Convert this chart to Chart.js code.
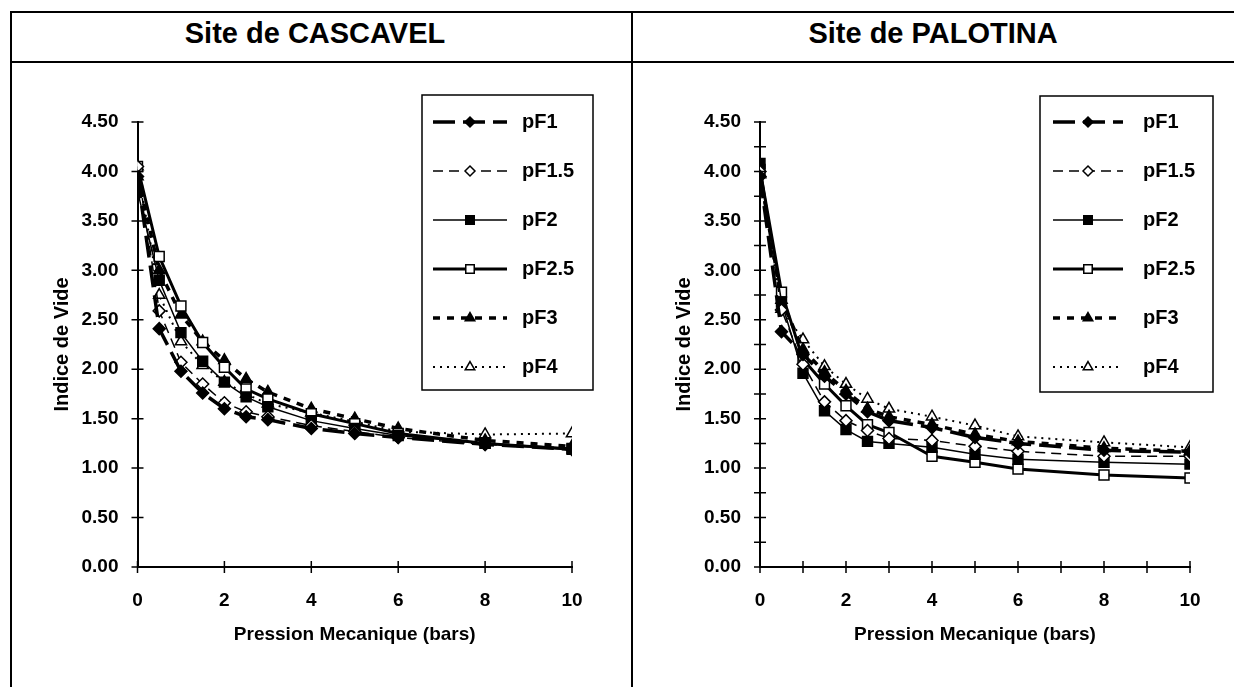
<!DOCTYPE html>
<html>
<head>
<meta charset="utf-8">
<script src="https://cdn.jsdelivr.net/npm/chart.js@4.4.1/dist/chart.umd.min.js"></script>
<style>
    body { margin: 0; background: #fff; width: 1234px; height: 687px; overflow: hidden; position: relative; font-family: "Liberation Sans", Arial, sans-serif; }
    .rule { position: absolute; background: #000; }
    .title { position: absolute; top: 17px; font-weight: bold; font-size: 29px; line-height: 32px; white-space: nowrap; transform: translateX(-50%); }
    canvas { position: absolute; }
</style>
</head>
<body>
<div class="rule" style="left:10px;top:11px;width:2px;height:676px"></div>
<div class="rule" style="left:10px;top:11px;width:1224px;height:2px"></div>
<div class="rule" style="left:10px;top:61px;width:1224px;height:2px"></div>
<div class="rule" style="left:631px;top:11px;width:2px;height:676px"></div>
<div class="title" style="left:315px">Site de CASCAVEL</div>
<div class="title" style="left:933px">Site de PALOTINA</div>
<canvas id="cascavel" width="619" height="624" style="left:12px;top:63px"></canvas>
<canvas id="palotina" width="601" height="624" style="left:633px;top:63px"></canvas>

<script>
// pressure steps (bars)
const pressures = [0, 0.5, 1, 1.5, 2, 2.5, 3, 4, 5, 6, 8, 10];
const seriesNames = ['pF1', 'pF1.5', 'pF2', 'pF2.5', 'pF3', 'pF4'];

// Site de CASCAVEL - indice de vide
const casPF1  = [3.95, 2.41, 1.98, 1.76, 1.60, 1.52, 1.49, 1.40, 1.35, 1.31, 1.24, 1.19];
const casPF15 = [4.05, 2.59, 2.07, 1.85, 1.66, 1.57, 1.52, 1.43, 1.37, 1.31, 1.24, 1.19];
const casPF2  = [3.80, 2.90, 2.37, 2.08, 1.87, 1.72, 1.62, 1.48, 1.40, 1.33, 1.25, 1.20];
const casPF25 = [4.05, 3.14, 2.64, 2.27, 2.02, 1.80, 1.70, 1.55, 1.45, 1.35, 1.25, 1.19];
const casPF3  = [3.95, 3.00, 2.55, 2.28, 2.09, 1.90, 1.77, 1.60, 1.50, 1.40, 1.28, 1.22];
const casPF4  = [4.05, 2.75, 2.28, 2.04, 1.87, 1.75, 1.65, 1.56, 1.47, 1.37, 1.34, 1.35];

// Site de PALOTINA - indice de vide
const palPF1  = [3.95, 2.38, 2.15, 1.93, 1.75, 1.57, 1.48, 1.41, 1.31, 1.25, 1.18, 1.16];
const palPF15 = [4.00, 2.60, 2.05, 1.67, 1.48, 1.38, 1.30, 1.28, 1.22, 1.17, 1.12, 1.12];
const palPF2  = [4.08, 2.68, 1.96, 1.58, 1.39, 1.27, 1.25, 1.21, 1.14, 1.09, 1.06, 1.04];
const palPF25 = [4.02, 2.78, 2.10, 1.85, 1.63, 1.44, 1.36, 1.12, 1.06, 0.99, 0.93, 0.90];
const palPF3  = [3.98, 2.70, 2.20, 1.97, 1.78, 1.60, 1.52, 1.44, 1.34, 1.27, 1.20, 1.17];
const palPF4  = [3.97, 2.61, 2.30, 2.03, 1.85, 1.70, 1.60, 1.52, 1.43, 1.32, 1.26, 1.21];

const FONT = '"Liberation Sans", Arial, sans-serif';

// line + marker look of each pF series
const looks = [
    { borderWidth: 3.5, borderDash: [22, 8], pointStyle: 'rectRot', pointRadius: 6, fill: '#000' },
    { borderWidth: 1.5, borderDash: [10, 6], pointStyle: 'rectRot', pointRadius: 6, fill: '#fff' },
    { borderWidth: 1.5, borderDash: [],      pointStyle: 'rect',    pointRadius: 7, fill: '#000' },
    { borderWidth: 3,   borderDash: [],      pointStyle: 'rect',    pointRadius: 7, fill: '#fff' },
    { borderWidth: 3.5, borderDash: [7, 7],  pointStyle: 'triangle', pointRadius: 6.5, fill: '#000' },
    { borderWidth: 2,   borderDash: [2, 5],  pointStyle: 'triangle', pointRadius: 6.5, fill: '#fff' }
];

function makeDatasets(lists) {
    return lists.map(function(values, i) {
        const look = looks[i];
        return {
            label: seriesNames[i],
            data: pressures.map((p, k) => ({ x: p, y: values[k] })),
            borderColor: '#000',
            borderWidth: look.borderWidth,
            borderDash: look.borderDash,
            pointStyle: look.pointStyle,
            pointRadius: look.pointRadius,
            pointBackgroundColor: look.fill,
            pointBorderColor: '#000',
            pointBorderWidth: 1.5,
            tension: 0
        };
    });
}

// crossing tick marks on both axes
const crossTicks = {
    id: 'crossTicks',
    afterDraw(chart, args, opts) {
        const ctx = chart.ctx;
        const xs = chart.scales.x, ys = chart.scales.y;
        const ax = xs.left, ay = ys.bottom;
        ctx.save();
        ctx.strokeStyle = '#000';
        ctx.lineWidth = 1.5;
        ctx.beginPath();
        for (let v = 0; v <= 10 + 1e-9; v += opts.xStep) {
            const px = xs.getPixelForValue(v);
            ctx.moveTo(px, ay - 6); ctx.lineTo(px, ay + 6);
        }
        for (let v = 0; v <= 4.5 + 1e-9; v += opts.yStep) {
            const py = ys.getPixelForValue(v);
            ctx.moveTo(ax - 6, py); ctx.lineTo(ax + 6, py);
        }
        ctx.stroke();
        ctx.restore();
    }
};

// boxed legend with line samples
const boxLegend = {
    id: 'boxLegend',
    afterDraw(chart, args, opts) {
        const ctx = chart.ctx;
        ctx.save();
        ctx.strokeStyle = '#000';
        ctx.lineWidth = 1.5;
        ctx.setLineDash([]);
        ctx.strokeRect(opts.left, opts.top, opts.width, opts.height);
        chart.data.datasets.forEach(function(ds, i) {
            const y = opts.firstY + i * opts.gap;
            ctx.lineWidth = ds.borderWidth;
            ctx.setLineDash(ds.borderDash);
            ctx.beginPath();
            ctx.moveTo(opts.lineX1, y);
            ctx.lineTo(opts.lineX2, y);
            ctx.stroke();
            ctx.setLineDash([]);
            ctx.fillStyle = ds.pointBackgroundColor;
            ctx.lineWidth = 1.5;
            Chart.helpers.drawPoint(ctx, {
                pointStyle: ds.pointStyle,
                radius: ds.pointRadius - 1,
                borderWidth: 1.5,
                rotation: 0
            }, (opts.lineX1 + opts.lineX2) / 2, y);
            ctx.fillStyle = '#000';
            ctx.font = 'bold 20px ' + FONT;
            ctx.textBaseline = 'middle';
            ctx.textAlign = 'left';
            ctx.fillText(ds.label, opts.textX, y);
        });
        ctx.restore();
    }
};

function buildChart(id, lists, area, legendPos, steps) {
    const canvas = document.getElementById(id);
    return new Chart(canvas.getContext('2d'), {
        type: 'line',
        data: { datasets: makeDatasets(lists) },
        options: {
            responsive: false,
            animation: false,
            layout: { padding: { left: 0, top: area.top, right: canvas.width - area.right, bottom: 0 } },
            plugins: {
                legend: { display: false },
                tooltip: { enabled: false },
                crossTicks: steps,
                boxLegend: legendPos
            },
            scales: {
                x: {
                    type: 'linear',
                    min: 0,
                    max: 10,
                    afterFit: function(s) { s.height = canvas.height - area.bottom; },
                    grid: { display: false, drawTicks: false },
                    border: { display: true, color: '#000', width: 2 },
                    ticks: { stepSize: 2, color: '#000', padding: 22, font: { family: FONT, size: 19, weight: 'bold' } },
                    title: { display: true, text: 'Pression Mecanique (bars)', color: '#000', padding: { top: 0, bottom: 41 }, font: { family: FONT, size: 19, weight: 'bold' } }
                },
                y: {
                    min: 0,
                    max: 4.5,
                    afterFit: function(s) { s.width = area.left; },
                    grid: { display: false, drawTicks: false },
                    border: { display: true, color: '#000', width: 2 },
                    ticks: {
                        stepSize: 0.5,
                        color: '#000',
                        padding: 19,
                        font: { family: FONT, size: 19, weight: 'bold' },
                        callback: function(value) { return value.toFixed(2); }
                    },
                    title: { display: true, text: 'Indice de Vide', color: '#000', padding: { top: area.yTitle - 12, bottom: 0 }, font: { family: FONT, size: 20, weight: 'bold' } }
                }
            }
        },
        plugins: [crossTicks, boxLegend]
    });
}

buildChart('cascavel',
    [casPF1, casPF15, casPF2, casPF25, casPF3, casPF4],
    { left: 125.5, right: 560, top: 59, bottom: 504, yTitle: 50 },
    { left: 410, top: 32, width: 171, height: 295, firstY: 59, gap: 49, lineX1: 421, lineX2: 495, textX: 510 },
    { xStep: 2, yStep: 0.5 });

buildChart('palotina',
    [palPF1, palPF15, palPF2, palPF25, palPF3, palPF4],
    { left: 127, right: 557, top: 59, bottom: 504, yTitle: 51.5 },
    { left: 407, top: 33, width: 173, height: 296, firstY: 59, gap: 49, lineX1: 420, lineX2: 490, textX: 510 },
    { xStep: 1, yStep: 0.25 });
</script>
</body>
</html>
